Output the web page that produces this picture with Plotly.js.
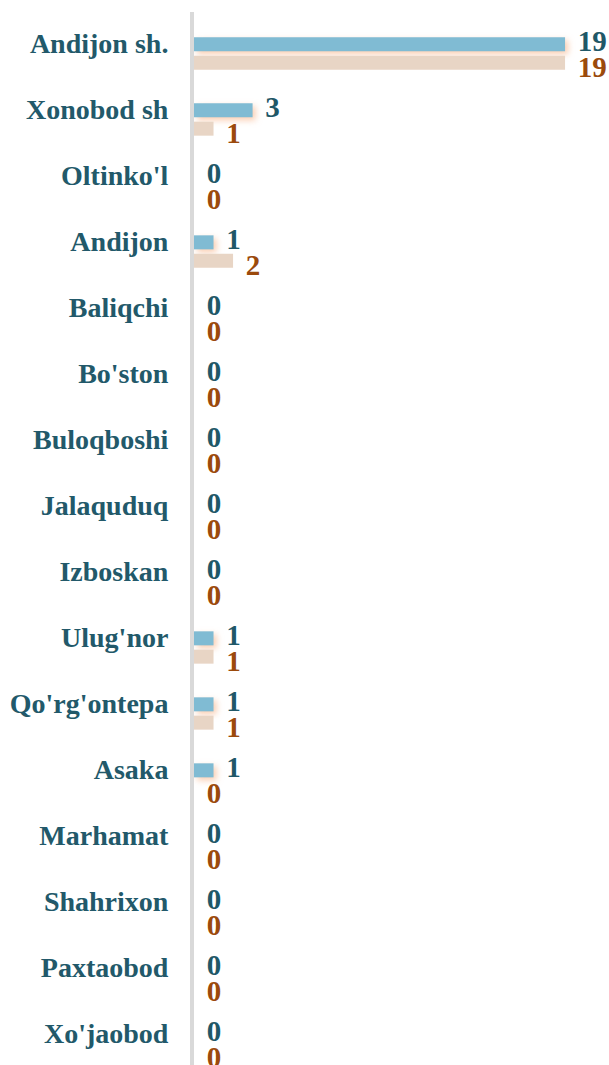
<!DOCTYPE html>
<html>
<head>
<meta charset="utf-8">
<script src="https://cdn.plot.ly/plotly-3.0.1.min.js"></script>
<style>
  html, body { margin: 0; padding: 0; background: #ffffff; }
  #chart { width: 609px; height: 1065px; }
  .barlayer .trace:first-child .point path { filter: drop-shadow(3px 3px 3px rgba(245,165,115,0.55)); }
  .barlayer .trace:first-child .point text { translate: 0 -3px; }
  .barlayer .trace:nth-child(2) .point text { translate: 0 4px; }
</style>
</head>
<body>
<div id="chart"></div>
<script>
const categories = ["Andijon sh.", "Xonobod sh", "Oltinko'l", "Andijon", "Baliqchi", "Bo'ston", "Buloqboshi", "Jalaquduq", "Izboskan", "Ulug'nor", "Qo'rg'ontepa", "Asaka", "Marhamat", "Shahrixon", "Paxtaobod", "Xo'jaobod"];
const seriesA = [19, 3, 0, 1, 0, 0, 0, 0, 0, 1, 1, 1, 0, 0, 0, 0];
const seriesB = [19, 1, 0, 2, 0, 0, 0, 0, 0, 1, 1, 0, 0, 0, 0, 0];

const serif = '"Liberation Serif", "Times New Roman", serif';

const traceA = {
  type: 'bar', orientation: 'h', name: 'A',
  y: categories, x: seriesA,
  marker: { color: '#80bbd3' },
  text: seriesA.map(String),
  texttemplate: '\u2004%{x}',
  textposition: 'outside', constraintext: 'none', cliponaxis: false,
  textfont: { family: serif, size: 29, color: '#1f5868', weight: 'bold' },
  hoverinfo: 'none'
};
const traceB = {
  type: 'bar', orientation: 'h', name: 'B',
  y: categories, x: seriesB,
  marker: { color: '#e8d5c5' },
  text: seriesB.map(String),
  texttemplate: '\u2004%{x}',
  textposition: 'outside', constraintext: 'none', cliponaxis: false,
  textfont: { family: serif, size: 29, color: '#9b4a0c', weight: 'bold' },
  hoverinfo: 'none'
};

const layout = {
  width: 609, height: 1065,
  margin: { l: 194, r: 0, t: 12, b: 0, pad: 0 },
  paper_bgcolor: '#ffffff', plot_bgcolor: '#ffffff',
  showlegend: false,
  barmode: 'group', bargap: 0.445, bargroupgap: 0.235,
  xaxis: { range: [0, 21.25], visible: false, fixedrange: true },
  yaxis: {
    type: 'category', range: [15.326, -0.629], autorange: false,
    showline: true, linecolor: '#d9d9d9', linewidth: 4,
    showgrid: false, zeroline: false, ticks: '',
    ticklabelshift: 10, ticklabelstandoff: 16,
    tickfont: { family: serif, size: 28, color: '#22596a', weight: 'bold' }
  }
};

Plotly.newPlot('chart', [traceA, traceB], layout, { staticPlot: true, displayModeBar: false });
</script>
</body>
</html>
